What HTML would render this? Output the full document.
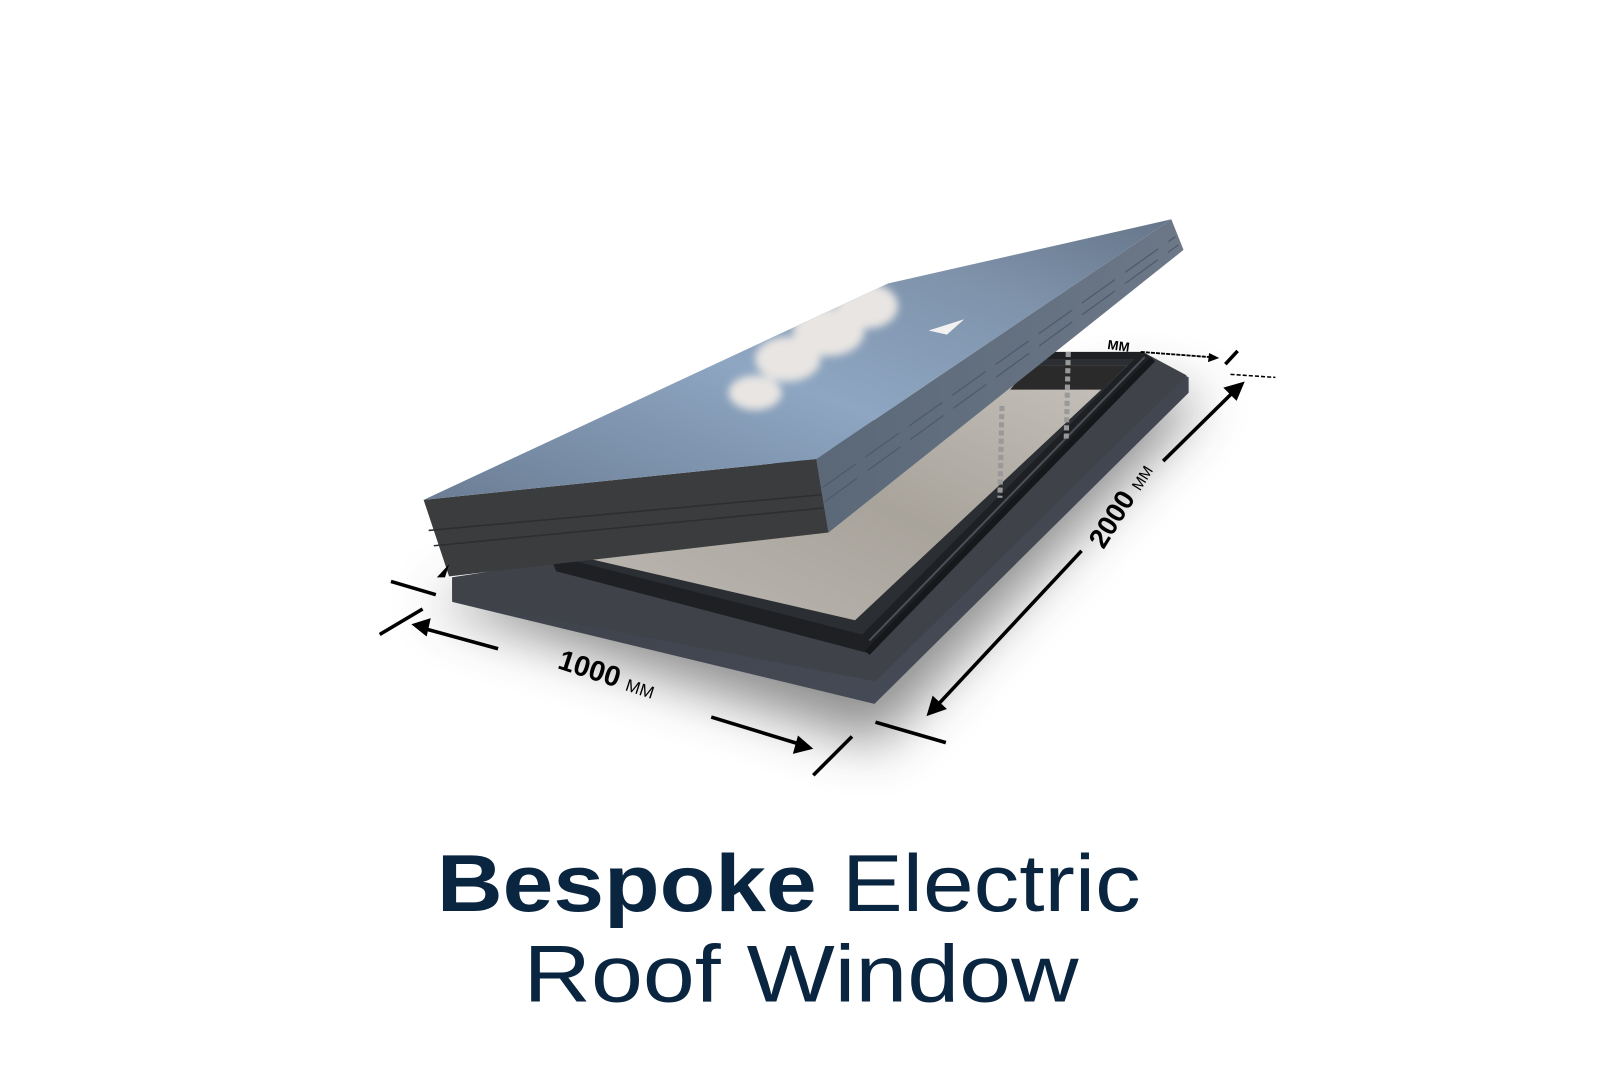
<!DOCTYPE html>
<html><head><meta charset="utf-8"><style>
html,body{margin:0;padding:0;background:#fff;}
svg{display:block;}
</style></head><body>
<svg width="1600" height="1068" viewBox="0 0 1568 1047" xmlns="http://www.w3.org/2000/svg">
<defs>
<filter id="blur" x="-30%" y="-30%" width="160%" height="160%"><feGaussianBlur stdDeviation="26"/></filter>
<filter id="cb"><feGaussianBlur stdDeviation="4"/></filter>
<clipPath id="topclip"><polygon points="415,490 870,278 1148,215 800,450"/></clipPath>
<linearGradient id="sky" x1="0" y1="1" x2="1" y2="0">
<stop offset="0" stop-color="#6b7d94"/><stop offset="0.45" stop-color="#8ea6c2"/><stop offset="0.75" stop-color="#7f93ab"/><stop offset="1" stop-color="#66768a"/></linearGradient>
<linearGradient id="side" x1="0" y1="0" x2="1" y2="0">
<stop offset="0" stop-color="#5b6878"/><stop offset="1" stop-color="#6c7888"/></linearGradient>
<linearGradient id="glass" x1="0" y1="1" x2="1" y2="0">
<stop offset="0" stop-color="#bdb9b3"/><stop offset="0.5" stop-color="#a8a39b"/><stop offset="1" stop-color="#c7c3bc"/></linearGradient>
<linearGradient id="plate" x1="0" y1="0" x2="1" y2="1">
<stop offset="0" stop-color="#393b41"/><stop offset="1" stop-color="#484e5b"/></linearGradient>
</defs>

<polygon points="420,590 860,730 1180,390 1100,380 560,560" fill="#444" opacity="0.6" filter="url(#blur)"/>

<polygon points="443,566 560,548 1120,345 1165,370 1165,385 857,690 443,590" fill="url(#plate)"/>
<polygon points="443,566 560,548 1120,345 1163,368 858,668 443,588" fill="#3f4249"/>
<polygon points="540,548 1012,345 1120,345 1130,352 850,640 545,560" fill="#1e2024"/>
<polygon points="555,548 1012,352 1112,352 845,622" fill="#2b2e33"/>
<polygon points="565,545 1010,358 1105,358 838,608" fill="url(#glass)"/>
<polygon points="1010,358 1105,358 1080,382 990,382" fill="#2a2a2a"/>
<line x1="850" y1="640" x2="1130" y2="352" stroke="#16181b" stroke-width="6"/>
<line x1="852" y1="628" x2="1122" y2="350" stroke="#4a4f58" stroke-width="2"/>

<g stroke="#999" stroke-width="5" stroke-dasharray="5,3">
<line x1="982" y1="398" x2="980" y2="488"/>
<line x1="1047" y1="345" x2="1045" y2="430"/>
</g>

<polygon points="415,490 800,450 812,522 440,565" fill="#3b3c3e"/>
<line x1="420" y1="520" x2="805" y2="485" stroke="#2d2e30" stroke-width="1.5"/>
<line x1="425" y1="535" x2="807" y2="498" stroke="#2d2e30" stroke-width="1.5"/>
<polygon points="800,450 1148,215 1160,245 812,522" fill="url(#side)"/>
<g stroke="#4d5a6a" stroke-width="1.2" stroke-dasharray="40,12">
<line x1="806" y1="478" x2="1152" y2="232"/>
<line x1="808" y1="492" x2="1155" y2="240"/>
</g>
<polygon points="415,490 870,278 1148,215 800,450" fill="url(#sky)"/>
<g fill="#e8e5e2" filter="url(#cb)" clip-path="url(#topclip)">
<ellipse cx="850" cy="300" rx="30" ry="22"/>
<ellipse cx="812" cy="325" rx="35" ry="24"/>
<ellipse cx="772" cy="352" rx="32" ry="22"/>
<ellipse cx="740" cy="385" rx="26" ry="17"/>
</g>
<polygon points="910,324 945,313 928,328" fill="#f2f2f2"/>

<g stroke="#000" stroke-width="3.5" fill="none">
<line x1="488" y1="636" x2="415" y2="616"/>
<line x1="697" y1="703" x2="782" y2="729"/>
<line x1="372" y1="622" x2="414" y2="597"/>
<line x1="383" y1="570" x2="427" y2="583"/>
<line x1="797" y1="760" x2="835" y2="722"/>
<line x1="1208" y1="385" x2="1140" y2="452"/>
<line x1="1060" y1="540" x2="920" y2="690"/>
<line x1="858" y1="708" x2="927" y2="728"/>
<line x1="1201" y1="357" x2="1213" y2="344"/>
</g>
<line x1="1206" y1="367" x2="1250" y2="370" stroke="#000" stroke-width="1.5" stroke-dasharray="4,2"/>
<line x1="1118" y1="345" x2="1185" y2="350" stroke="#000" stroke-width="1.8" stroke-dasharray="4,1"/>
<g fill="#000">
<polygon points="403,612 422,606 418,624"/>
<polygon points="797,734 777,739 782,721"/>
<polygon points="1220,374 1212,393 1199,380"/>
<polygon points="908,702 914,682 928,695"/>
<polygon points="1195,351 1184,355 1185,346"/>
<polygon points="440,553 428,566 436,566"/>
</g>
<text x="0" y="0" transform="translate(592,670) rotate(18)" text-anchor="middle" font-family="Liberation Sans, sans-serif" font-weight="bold" font-size="28" fill="#000">1000 <tspan font-size="17" font-weight="normal">MM</tspan></text>
<text x="0" y="0" transform="translate(1106,500) rotate(-58)" text-anchor="middle" font-family="Liberation Sans, sans-serif" font-weight="bold" font-size="27" fill="#000">2000 <tspan font-size="15" font-weight="normal">MM</tspan></text>
<text x="1085" y="342" font-family="Liberation Sans, sans-serif" font-size="13" font-weight="bold" fill="#000" transform="rotate(8 1085 342)">MM</text>

<text x="428" y="893" textLength="690" lengthAdjust="spacingAndGlyphs" font-family="Liberation Sans, sans-serif" font-size="79" fill="#0a2540"><tspan font-weight="bold">Bespoke</tspan> Electric</text>
<text x="513" y="982" textLength="544" lengthAdjust="spacingAndGlyphs" font-family="Liberation Sans, sans-serif" font-size="79" fill="#0a2540">Roof Window</text>
</svg>
</body></html>
